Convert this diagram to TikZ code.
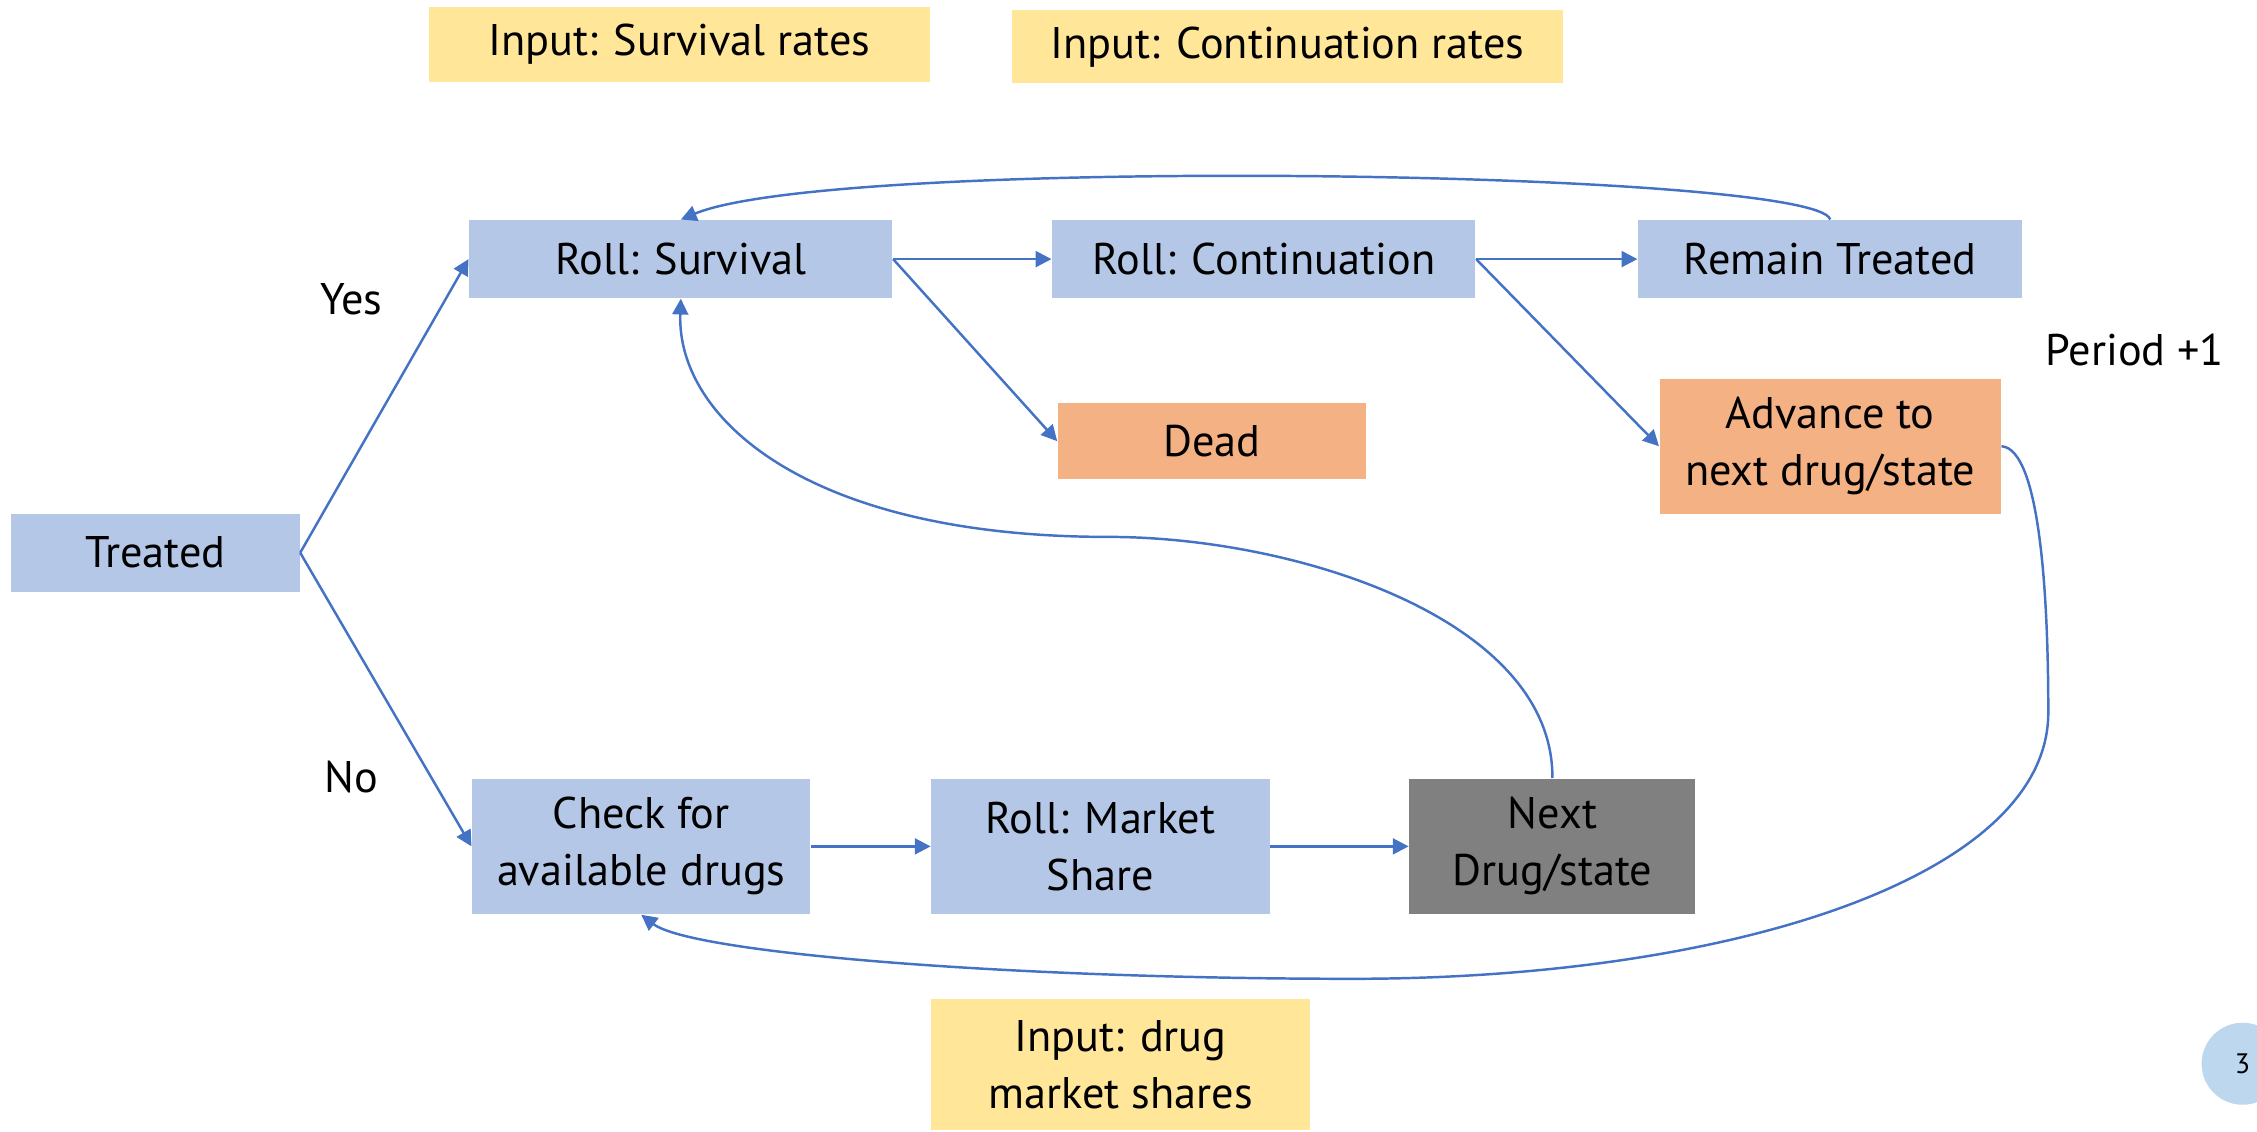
\documentclass[tikz,border=0pt]{standalone}
\usepackage{fontspec}
\setmainfont{PT Sans}
\usetikzlibrary{arrows.meta}
\definecolor{boxblue}{HTML}{B4C7E7}
\definecolor{boxorange}{HTML}{F4B183}
\definecolor{boxyellow}{HTML}{FFE699}
\definecolor{boxgrey}{HTML}{808080}
\definecolor{flowblue}{HTML}{4472C4}
\definecolor{pageblue}{HTML}{BDD7EE}

\begin{document}
\begin{tikzpicture}[x=0.014394cm, y=-0.014394cm, arrows={-Triangle[length=4.5pt,width=4.5pt]},
	every node/.style={font=\fontsize{12.6}{16.2}\selectfont, align=center, inner sep=0pt},
	rollbox/.style={fill=boxblue, minimum height=0.777cm},
	tallbox/.style={minimum height=1.353cm},
	outbox/.style={fill=boxorange},
	inputbox/.style={fill=boxyellow},
	flow/.style={draw=flowblue, line width=0.7pt}]
	\useasboundingbox (0,0) rectangle (1568,786);

	\node [inputbox, minimum width=5.01cm, minimum height=0.748cm] (InSurv) at (472,31) {Input: Survival rates};
	\node [inputbox, minimum width=5.51cm, minimum height=0.734cm] (InCont) at (894.5,32.5) {Input: Continuation rates};
	\node [inputbox, minimum width=3.79cm, minimum height=1.31cm] (InShare) at (778.5,739.5) {Input: drug\\market shares};

	\node [rollbox, minimum width=2.88cm] (Treated) at (108,384) {Treated};
	\node [rollbox, minimum width=4.23cm] (Surv) at (473,180) {Roll: Survival};
	\node [rollbox, minimum width=4.23cm] (Cont) at (878,180) {Roll: Continuation};
	\node [rollbox, minimum width=3.84cm] (Remain) at (1271.5,180) {Remain Treated};
	\node [outbox, minimum width=3.08cm, minimum height=0.763cm] (Dead) at (842,306.5) {Dead};
	\node [outbox, tallbox, minimum width=3.41cm] (Advance) at (1271.5,310) {Advance to\\next drug/state};
	\node [rollbox, tallbox, minimum width=3.38cm] (Check) at (445.5,588) {Check for\\available drugs};
	\node [rollbox, tallbox, minimum width=3.38cm] (Market) at (764.5,588) {Roll: Market\\Share};
	\node [fill=boxgrey, tallbox, minimum width=2.86cm] (Next) at (1078.5,588) {Next\\Drug/state};

	\node (Yes) at (244,208) {Yes};
	\node (No) at (244,540) {No};
	\node (Period) at (1483,243) {Period +1};
	\node [circle, fill=pageblue, minimum size=0.82cm, font=\fontsize{8}{9}\selectfont] (Page) at (1558,739) {3};

	\draw [flow] (Treated.east) to (Surv.west);
	\draw [flow] (Treated.east) to (Check.west);
	\draw [flow] (Surv.east) to (Cont.west);
	\draw [flow] (Surv.east) to (Dead.west);
	\draw [flow] (Cont.east) to (Remain.west);
	\draw [flow] (Cont.east) to (Advance.west);
	\draw [flow] (Check.east) to (Market.west);
	\draw [flow] (Market.east) to (Next.west);
	\draw [flow] (Remain.north) .. controls (1262,118) and (580,108) .. (Surv.north);
	\draw [flow] (Next.north) .. controls (1079,430) and (900,373) .. (770,373) .. controls (560,373) and (470,290) .. (Surv.south);
	\draw [flow] (Advance.east) .. controls (1418,312) and (1423,420) .. (1423,495) .. controls (1423,610) and (1200,680) .. (940,680) .. controls (700,680) and (480,662) .. (Check.south);
\end{tikzpicture}
\end{document}
